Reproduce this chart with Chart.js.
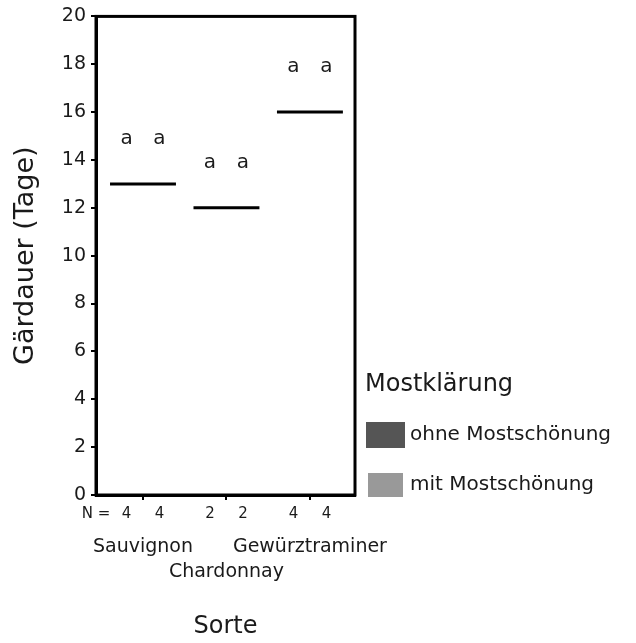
<!DOCTYPE html>
<html>
<head>
<meta charset="utf-8">
<script src="https://cdn.jsdelivr.net/npm/chart.js@4/dist/chart.umd.min.js"></script>
<style>
  html, body { margin: 0; padding: 0; background: #fff; }
  #wrap { width: 636px; height: 643px; }
</style>
</head>
<body>
<div id="wrap"><canvas id="c" width="636" height="643"></canvas></div>
<script>
// ---- data ----
const categories = ['Sauvignon', 'Chardonnay', 'Gewürztraminer'];
const seriesNames = ['ohne Mostschönung', 'mit Mostschönung'];
const ohneValues = [13, 12, 16];
const mitValues = [13, 12, 16];
const ohneN = [4, 2, 4];
const mitN = [4, 2, 4];
const ohneLetters = ['a', 'a', 'a'];
const mitLetters = ['a', 'a', 'a'];
const letterLevels = [14.9, 13.9, 17.9];
const yTicks = [0, 2, 4, 6, 8, 10, 12, 14, 16, 18, 20];
const legendTitle = 'Mostklärung';
const yTitle = 'Gärdauer (Tage)';
const xTitle = 'Sorte';

const FONT = "'DejaVu Sans', sans-serif";
const TEXT = '#1a1a1a';
const seriesColors = ['#555555', '#999999'];

const overlay = {
  id: 'overlay',
  afterDatasetsDraw(chart) {
    const ctx = chart.ctx;
    const ca = chart.chartArea;
    const ys = chart.scales.y;
    const nSets = [ohneN, mitN];
    const letterSets = [ohneLetters, mitLetters];
    ctx.save();
    // frame
    ctx.strokeStyle = '#000';
    ctx.lineWidth = 3;
    ctx.strokeRect(ca.left, ca.top, ca.right - ca.left, ca.bottom - ca.top);
    // median lines spanning both groups of a category
    const metas = chart.data.datasets.map((d, di) => chart.getDatasetMeta(di));
    categories.forEach((c, i) => {
      let x0 = Infinity, x1 = -Infinity, y = 0;
      metas.forEach(meta => {
        const p = meta.data[i].getProps(['x', 'y', 'width'], true);
        x0 = Math.min(x0, p.x - p.width / 2);
        x1 = Math.max(x1, p.x + p.width / 2);
        y = p.y;
      });
      ctx.strokeStyle = '#000';
      ctx.lineWidth = 3;
      ctx.beginPath();
      ctx.moveTo(x0, y);
      ctx.lineTo(x1, y);
      ctx.stroke();
    });
    // letters and N
    metas.forEach((meta, di) => {
      meta.data.forEach((el, i) => {
        const p = el.getProps(['x'], true);
        ctx.fillStyle = TEXT;
        ctx.font = '20px ' + FONT;
        ctx.textAlign = 'center';
        ctx.textBaseline = 'middle';
        ctx.fillText(letterSets[di][i], p.x, ys.getPixelForValue(letterLevels[i]));
        ctx.font = '15px ' + FONT;
        ctx.fillText(String(nSets[di][i]), p.x, ca.bottom + 19);
      });
    });
    ctx.font = '15px ' + FONT;
    ctx.textAlign = 'center';
    ctx.textBaseline = 'middle';
    ctx.fillStyle = TEXT;
    ctx.fillText('N =', ca.left, ca.bottom + 19);
    // legend
    const lx = ca.right + 10;
    ctx.textAlign = 'left';
    ctx.font = '24px ' + FONT;
    ctx.fillText(legendTitle, lx, 385);
    chart.data.datasets.forEach((ds, di) => {
      const cy = 435 + di * 50;
      ctx.fillStyle = seriesColors[di];
      if (di === 0) ctx.fillRect(lx + 1, cy - 13, 39, 26);
      else ctx.fillRect(lx + 3, cy - 12, 35, 24);
      ctx.fillStyle = TEXT;
      ctx.font = '20px ' + FONT;
      ctx.fillText(ds.label, lx + 45, cy);
    });
    ctx.restore();
  }
};

new Chart(document.getElementById('c'), {
  type: 'bar',
  data: {
    datasets: [
      { label: seriesNames[0], data: ohneValues.map((v, i) => ({ x: i, y: [v, v] })), backgroundColor: 'rgba(0,0,0,0)', borderWidth: 0, categoryPercentage: 0.79, barPercentage: 1.0 },
      { label: seriesNames[1], data: mitValues.map((v, i) => ({ x: i, y: [v, v] })), backgroundColor: 'rgba(0,0,0,0)', borderWidth: 0, categoryPercentage: 0.79, barPercentage: 1.0 }
    ]
  },
  options: {
    responsive: false,
    animation: false,
    events: [],
    layout: { padding: { left: 0, right: 281, top: 15, bottom: 0 } },
    plugins: { legend: { display: false }, tooltip: { enabled: false } },
    scales: {
      x: {
        type: 'linear',
        min: -0.563,
        max: 2.54,
        offset: false,
        afterBuildTicks: s => { s.ticks = categories.map((c, i) => ({ value: i })); },
        grid: { display: true, offset: false, drawOnChartArea: false, drawTicks: true, tickLength: 5, tickColor: '#000', lineWidth: 2 },
        border: { display: true, color: '#000', width: 3 },
        ticks: {
          color: TEXT,
          font: { family: FONT, size: 19, lineHeight: 1.3 },
          padding: 35,
          maxRotation: 0,
          autoSkip: false,
          callback: (v) => v === 1 ? ['', categories[v]] : [categories[v]]
        },
        title: { display: true, text: xTitle, color: TEXT, font: { family: FONT, size: 24 }, padding: { top: 0, bottom: 2 } },
        afterFit: s => { s.height = 148; }
      },
      y: {
        min: 0, max: 20,
        afterBuildTicks: s => { s.ticks = yTicks.map(v => ({ value: v })); },
        grid: { display: true, drawOnChartArea: false, drawTicks: true, tickLength: 5, tickColor: '#000', lineWidth: 2 },
        border: { display: true, color: '#000', width: 3 },
        ticks: { color: TEXT, font: { family: FONT, size: 19 }, padding: 5 },
        title: { display: true, text: yTitle, color: TEXT, font: { family: FONT, size: 27 }, padding: { top: 10, bottom: 0 } },
        afterFit: s => { s.width = 96; }
      }
    }
  },
  plugins: [overlay]
});
</script>
</body>
</html>
